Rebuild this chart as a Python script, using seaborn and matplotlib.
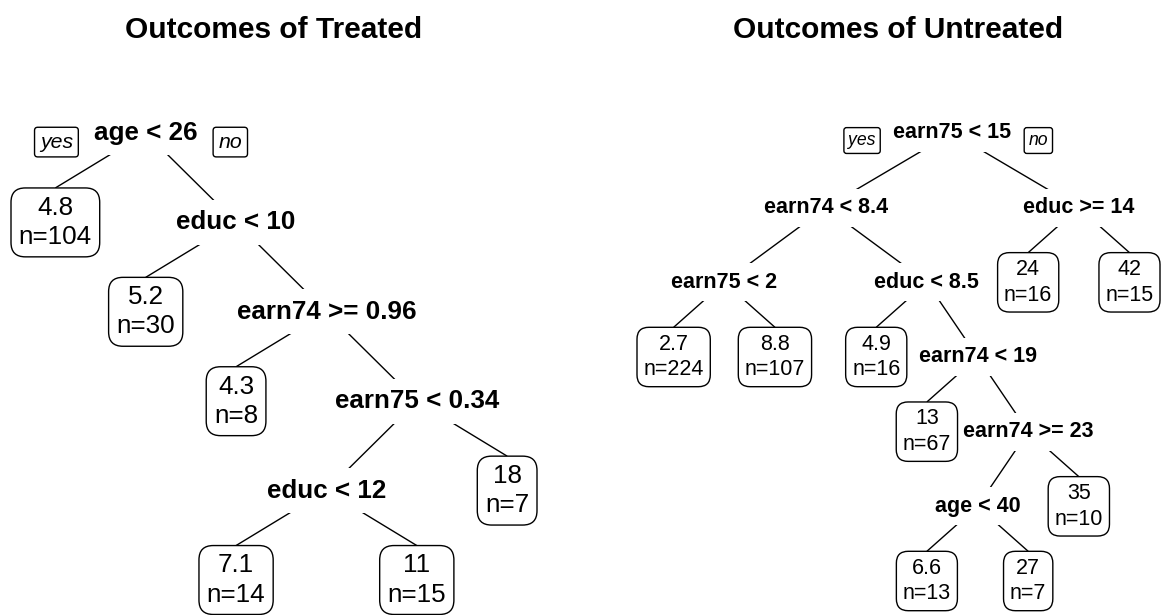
import numpy as np
import pandas as pd
import seaborn as sns
import matplotlib.pyplot as plt

# rpart node numbering: node k splits into 2k (yes) and 2k+1 (no)
treated_split_nodes = [1, 3, 7, 15, 30]
treated_split_labels = ['age < 26', 'educ < 10', 'earn74 >= 0.96', 'earn75 < 0.34', 'educ < 12']
treated_leaf_nodes = [2, 6, 14, 60, 61, 31]
treated_leaf_values = [4.8, 5.2, 4.3, 7.1, 11, 18]
treated_leaf_n = [104, 30, 8, 14, 15, 7]

untreated_split_nodes = [1, 2, 3, 4, 5, 11, 23, 46]
untreated_split_labels = ['earn75 < 15', 'earn74 < 8.4', 'educ >= 14', 'earn75 < 2',
                          'educ < 8.5', 'earn74 < 19', 'earn74 >= 23', 'age < 40']
untreated_leaf_nodes = [8, 9, 10, 22, 92, 93, 47, 6, 7]
untreated_leaf_values = [2.7, 8.8, 4.9, 13, 6.6, 27, 35, 24, 42]
untreated_leaf_n = [224, 107, 16, 67, 13, 7, 10, 16, 15]

sns.set_theme(style='white')
plt.rcParams['font.family'] = ['Liberation Sans', 'DejaVu Sans']
plt.rcParams['text.color'] = 'black'

W_PX, H_PX = 1161, 615


def layout(node, splits):
    # compact layout: right subtree slid left until 1 unit from left subtree on every level
    if node not in splits:
        return {node: 0.0}, {0: (0.0, 0.0)}
    lpos, lcon = layout(2 * node, splits)
    rpos, rcon = layout(2 * node + 1, splits)
    shift = max(lcon[d][1] + 1 - rcon[d][0] for d in lcon if d in rcon)
    mid = (lpos[2 * node] + rpos[2 * node + 1] + shift) / 2
    pos = {node: 0.0}
    pos.update({k: v - mid for k, v in lpos.items()})
    pos.update({k: v + shift - mid for k, v in rpos.items()})
    con = {0: (0.0, 0.0)}
    for d in set(lcon) | set(rcon):
        parts = [(c[d][0] + off - mid, c[d][1] + off - mid)
                 for c, off in ((lcon, 0.0), (rcon, shift)) if d in c]
        con[d + 1] = (min(p[0] for p in parts), max(p[1] for p in parts))
    return pos, con


def draw_tree(fig, box_px, title, split_nodes, split_labels, leaf_nodes, leaf_values, leaf_n, fs):
    x0, x1, y0, y1 = box_px
    ax = fig.add_axes([x0 / W_PX, 1 - y1 / H_PX, (x1 - x0) / W_PX, (y1 - y0) / H_PX])
    ax.axis('off')
    splits = dict(zip(split_nodes, split_labels))
    pos, _ = layout(1, splits)
    depth = {k: k.bit_length() - 1 for k in pos}
    ax.set_ylim(max(depth.values()), 0)
    ax.set_xlim(min(pos.values()) - 0.5, max(pos.values()) + 0.5)

    texts = {}
    for k, lab in splits.items():
        texts[k] = ax.text(pos[k], depth[k], lab, ha='center', va='center', fontsize=fs,
                           fontweight='bold', color='black', zorder=3,
                           bbox=dict(boxstyle='square,pad=0.4', fc='white', ec='none'))
    for k, v, n in zip(leaf_nodes, leaf_values, leaf_n):
        texts[k] = ax.text(pos[k], depth[k], f'{v:.2g}\nn={n}', ha='center', va='center',
                           fontsize=fs, linespacing=1.28, color='black', zorder=3,
                           bbox=dict(boxstyle='round,pad=0.3,rounding_size=0.55',
                                     fc='white', ec='black', lw=1.0))

    # fit the boxes to the axes width
    fig.canvas.draw()
    r = fig.canvas.get_renderer()
    half = {}
    for k, t in texts.items():
        bb = t.get_window_extent(r) if k in splits else t.get_bbox_patch().get_window_extent(r)
        half[k] = bb.width / 2
    width = x1 - x0
    lo, hi = 1e-3, width
    for _ in range(60):
        s = (lo + hi) / 2
        span = max(s * pos[k] + half[k] for k in pos) - min(s * pos[k] - half[k] for k in pos)
        lo, hi = (s, hi) if span < width else (lo, s)
    left = min(s * pos[k] - half[k] for k in pos)
    ax.set_xlim(left / s, (left + width) / s)

    fig.canvas.draw()
    inv = ax.transData.inverted()
    for k in pos:
        if k == 1:
            continue
        p = k // 2
        if k in splits:
            cx, cy = pos[k], depth[k]
        else:
            bb = texts[k].get_bbox_patch().get_window_extent(r)
            cx, cy = pos[k], inv.transform((bb.x0, bb.y1))[1]
        ax.plot([pos[p], cx], [depth[p], cy], color='black', lw=1.0, zorder=1,
                solid_capstyle='butt')

    # yes / no tags beside the root
    ext = texts[1].get_window_extent(r)
    tag_fs = fs * 0.82
    pad = 0.25
    gap = fs * 0.6 + tag_fs * pad
    yoff = -fs * 0.35
    for side, word in ((-1, 'yes'), (1, 'no')):
        ex = ext.x0 if side < 0 else ext.x1
        xy = inv.transform((ex, (ext.y0 + ext.y1) / 2))
        ax.annotate(word, xy=xy, xytext=(side * gap, yoff), textcoords='offset points',
                    ha='right' if side < 0 else 'left', va='center', fontsize=tag_fs,
                    fontstyle='italic', color='black', zorder=3,
                    bbox=dict(boxstyle=f'round,pad={pad},rounding_size=0.15',
                              fc='white', ec='black', lw=1.0))

    fig.text((x0 + x1) / 2 / W_PX, 1 - 38 / H_PX, title, ha='center', va='baseline',
             fontsize=21.5, fontweight='bold', color='black')
    return ax


fig = plt.figure(figsize=(W_PX / 100, H_PX / 100), dpi=100)
draw_tree(fig, (11, 537, 133, 580), 'Outcomes of Treated',
          treated_split_nodes, treated_split_labels,
          treated_leaf_nodes, treated_leaf_values, treated_leaf_n, fs=18.7)
draw_tree(fig, (637, 1160, 133, 581), 'Outcomes of Untreated',
          untreated_split_nodes, untreated_split_labels,
          untreated_leaf_nodes, untreated_leaf_values, untreated_leaf_n, fs=15.5)

plt.savefig('out.png', dpi=100)
